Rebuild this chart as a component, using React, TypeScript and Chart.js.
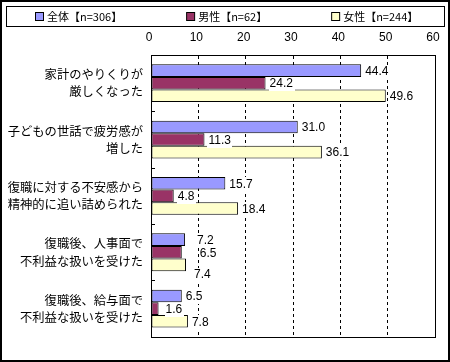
import React, { useEffect, useRef } from "react";
import { Chart, registerables } from "chart.js";

Chart.register(...registerables);

const categories: string[][] = [
  ["家計のやりくりが", "厳しくなった"],
  ["子どもの世話で疲労感が", "増した"],
  ["復職に対する不安感から", "精神的に追い詰められた"],
  ["復職後、人事面で", "不利益な扱いを受けた"],
  ["復職後、給与面で", "不利益な扱いを受けた"],
];
const seriesNames = ["全体【n=306】", "男性【n=62】", "女性【n=244】"];
const totalValues = [44.4, 31.0, 15.7, 7.2, 6.5];
const maleValues = [24.2, 11.3, 4.8, 6.5, 1.6];
const femaleValues = [49.6, 36.1, 18.4, 7.4, 7.8];
const xTickValues = [0, 10, 20, 30, 40, 50, 60];

const seriesColors = ["#9999FF", "#993366", "#FFFFCC"];
const JP = '"Noto Sans CJK JP", "Noto Sans", sans-serif';
const LAT = '"Liberation Sans", Arial, sans-serif';

// small label nudges mimicking the original placement (style only)
const labelNudge: Record<string, [number, number]> = {
  "0-3": [8, 0],
  "1-3": [14, 0],
  "2-3": [4, 9],
  "1-4": [3, 0],
};

const framePlugin = {
  id: "frameAndLegend",
  beforeDraw(chart: any) {
    const ctx = chart.ctx;
    ctx.save();
    ctx.fillStyle = "#ffffff";
    ctx.fillRect(0, 0, chart.width, chart.height);
    ctx.strokeStyle = "#000000";
    ctx.lineWidth = 2;
    ctx.strokeRect(1, 1, chart.width - 2, chart.height - 2);
    ctx.lineWidth = 1;
    ctx.strokeRect(6.5, 6.5, 438, 20);
    ctx.font = "11px " + JP;
    const items = chart.data.datasets.map((ds: any) => ({
      label: ds.label,
      color: ds.backgroundColor,
      w: 8 + 4 + ctx.measureText(ds.label).width,
    }));
    const gap = 64;
    const total =
      items.reduce((s: number, it: any) => s + it.w, 0) + gap * (items.length - 1);
    let x = Math.round(227 - total / 2);
    items.forEach((it: any) => {
      ctx.fillStyle = it.color;
      ctx.fillRect(x + 0.5, 12.5, 8, 8);
      ctx.strokeStyle = "#000";
      ctx.strokeRect(x + 0.5, 12.5, 8, 8);
      ctx.fillStyle = "#000";
      ctx.textBaseline = "middle";
      ctx.textAlign = "left";
      ctx.fillText(it.label, x + 12, 17);
      x += it.w + gap;
    });
    ctx.restore();
  },
  afterDatasetsDraw(chart: any) {
    const ctx = chart.ctx;
    const a = chart.chartArea;
    ctx.save();
    ctx.strokeStyle = "#000";
    ctx.lineWidth = 1;
    ctx.strokeRect(Math.round(a.left) + 0.5, Math.round(a.top) + 0.5, Math.round(a.right - a.left), Math.round(a.bottom - a.top));
    // category boundary tick marks (inside)
    const ys = chart.scales.y;
    for (let i = 1; i < categories.length; i++) {
      const y = Math.round((ys.getPixelForValue(i - 1) + ys.getPixelForValue(i)) / 2) + 0.5;
      ctx.beginPath();
      ctx.moveTo(a.left, y);
      ctx.lineTo(a.left + 4, y);
      ctx.stroke();
    }
    // data labels with white backing
    ctx.font = "12px " + LAT;
    ctx.textBaseline = "middle";
    ctx.textAlign = "left";
    chart.data.datasets.forEach((ds: any, di: number) => {
      const meta = chart.getDatasetMeta(di);
      meta.data.forEach((el: any, ci: number) => {
        const n = labelNudge[di + "-" + ci] || [0, 0];
        const v = ds.data[ci] as number;
        const txt = v.toFixed(1);
        const tx = el.x + 4 + n[0];
        const ty = el.y + 1 + n[1];
        const w = ctx.measureText(txt).width;
        ctx.fillStyle = "#fff";
        ctx.fillRect(Math.round(tx - 1), Math.round(ty - 7), Math.ceil(w + 2), 14);
        ctx.fillStyle = "#000";
        ctx.fillText(txt, tx, ty);
      });
    });
    ctx.restore();
  },
};

export default function App() {
  const ref = useRef<HTMLCanvasElement | null>(null);
  useEffect(() => {
    if (!ref.current) return;
    const chart = new Chart(ref.current, {
      type: "bar",
      data: {
        labels: categories,
        datasets: [
          { label: seriesNames[0], data: totalValues, backgroundColor: seriesColors[0] },
          { label: seriesNames[1], data: maleValues, backgroundColor: seriesColors[1] },
          { label: seriesNames[2], data: femaleValues, backgroundColor: seriesColors[2] },
        ].map((d) => ({
          ...d,
          borderColor: "#000000",
          borderWidth: 1,
          borderSkipped: false,
          categoryPercentage: 0.67,
          barPercentage: 1.0,
        })) as any,
      },
      options: {
        indexAxis: "y",
        responsive: false,
        animation: false,
        devicePixelRatio: 1,
        layout: { padding: { left: 7, right: 2, top: 27, bottom: 6 } },
        plugins: {
          legend: { display: false },
          tooltip: { enabled: false },
        },
        scales: {
          x: {
            position: "top",
            min: xTickValues[0],
            max: xTickValues[xTickValues.length - 1],
            afterBuildTicks: (s: any) => {
              s.ticks = xTickValues.map((v) => ({ value: v }));
            },
            afterFit: (s: any) => {
              s.height = 28;
              s.paddingRight = 15;
            },
            ticks: {
              color: "#000",
              font: { family: LAT, size: 12 },
              padding: 10,
              maxRotation: 0,
              labelOffset: -2,
            },
            grid: {
              color: "#000",
              lineWidth: 1,
              drawTicks: false,
            },
            border: { display: true, color: "#000", dash: [3, 3] },
          } as any,
          y: {
            afterFit: (s: any) => {
              s.width = 144;
            },
            ticks: {
              color: "#000",
              font: { family: JP, size: 12.3, lineHeight: 1.4 },
              padding: 8,
            },
            grid: { display: false, drawTicks: false },
            border: { display: true, color: "#000" },
          } as any,
        },
      },
      plugins: [framePlugin],
    });
    return () => chart.destroy();
  }, []);
  return (
    <div style={{ position: "absolute", left: 0, top: 0, width: 450, height: 362 }}>
      <canvas ref={ref} width={450} height={362} />
    </div>
  );
}
